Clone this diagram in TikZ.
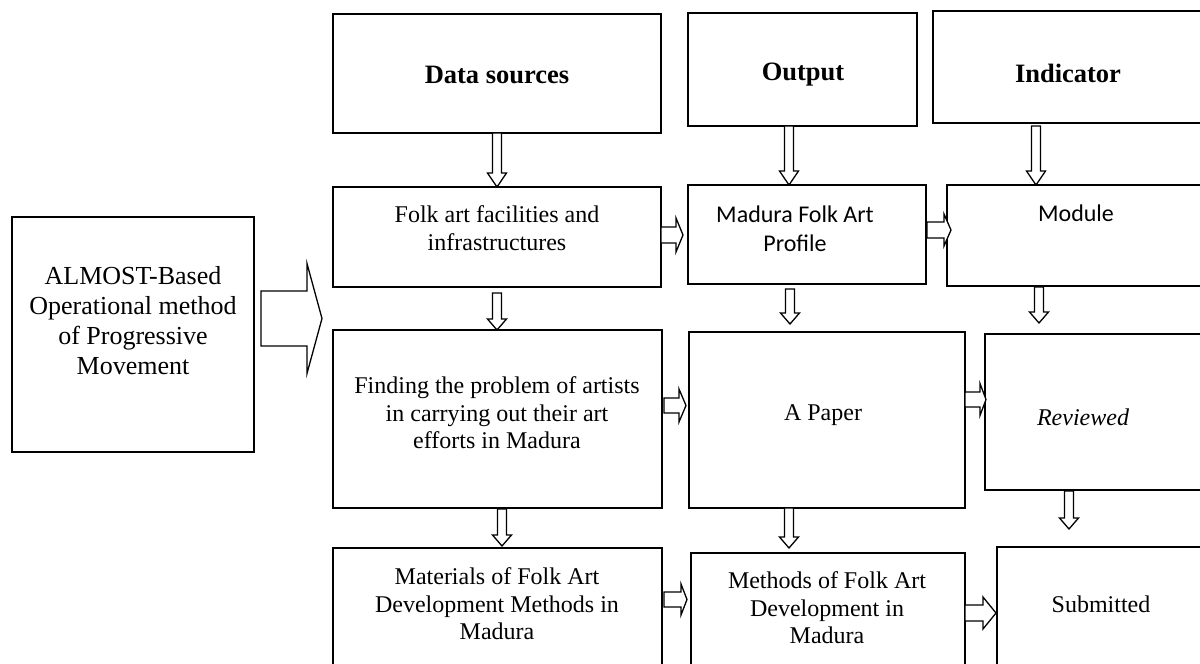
\documentclass[tikz,border=0pt]{standalone}
\usepackage{fontspec}
\setmainfont{Liberation Serif}
\newfontfamily\calibfont{Carlito}
\usetikzlibrary{calc}
\newcommand\mybox[5]{\node[box, anchor=north west, minimum width={(#4-#2)*1pt}, minimum height={(#5-#3)*1pt}] (#1) at (#2,#3) {};}
% vertical block arrow: from box, to box, x, start gap, tip gap, head length
\newcommand\myvarr[6]{\draw[blk] let \p1=(#1.south), \p2=(#2.north), \p3=(#3,0) in
  ({\x3-4.5pt},{\y1-#4pt}) -- ({\x3-4.5pt},{\y2+#5pt+#6pt}) -- ({\x3-9.5pt},{\y2+#5pt+#6pt}) -- ({\x3},{\y2+#5pt})
  -- ({\x3+9.5pt},{\y2+#5pt+#6pt}) -- ({\x3+4.5pt},{\y2+#5pt+#6pt}) -- ({\x3+4.5pt},{\y1-#4pt}) -- cycle;}
% horizontal block arrow: from, to, y, start gap, tip gap, shaft half, head half, head length
\newcommand\myharr[8]{\draw[blk] let \p1=(#1.east), \p2=(#2.west), \p3=(0,#3) in
  ({\x1+#4pt},{\y3+#6pt}) -- ({\x2-(#5pt)-#8pt},{\y3+#6pt}) -- ({\x2-(#5pt)-#8pt},{\y3+#7pt}) -- ({\x2-(#5pt)},{\y3})
  -- ({\x2-(#5pt)-#8pt},{\y3-#7pt}) -- ({\x2-(#5pt)-#8pt},{\y3-#6pt}) -- ({\x1+#4pt},{\y3-#6pt}) -- cycle;}
\begin{document}
\begin{tikzpicture}[x=1pt,y=-1pt,
  box/.style={draw, line width=1.5pt, inner sep=0pt, outer sep=0pt},
  blk/.style={draw, line width=1.3pt, fill=white, line join=miter},
  txt/.style={font=\fontsize{24}{27.5}\selectfont, align=center, inner sep=0pt},
  hdr/.style={font=\fontsize{26.5}{30}\selectfont\bfseries, align=center, inner sep=0pt},
  side/.style={font=\fontsize{26}{30}\selectfont, align=center, inner sep=0pt},
  sans/.style={font=\fontsize{24}{29}\selectfont\calibfont, align=center, inner sep=0pt}]
\useasboundingbox (0,0) rectangle (1200,664);
\fill[white] (0,0) rectangle (1200,664);
\begin{scope}
\clip (0,0) rectangle (1200,664);
% boxes
\mybox{alm}{12}{217}{254}{452}
\mybox{ds}{333}{14}{661}{133}
\mybox{out}{688}{13}{917}{126}
\mybox{ind}{933}{11}{1205}{123}
\mybox{fa}{333}{187}{661}{287}
\mybox{pfl}{688}{185}{926}{284}
\mybox{mod}{947}{185}{1205}{286}
\mybox{fin}{333}{330}{662}{508}
\mybox{ap}{689}{332}{965}{508}
\mybox{rev}{985}{334}{1205}{490}
\mybox{mat}{333}{548}{662}{690}
\mybox{meth}{691}{553}{965}{690}
\mybox{sub}{997}{547}{1205}{690}
% texts
\node[side] (talm) at (133,321) {ALMOST-Based\\Operational method\\of Progressive\\Movement};
\node[hdr] (tds) at (497,75) {Data sources};
\node[hdr] (tout) at (803,75) {Output};
\node[hdr] (tind) at (1068,73) {Indicator};
\node[txt] (tfa) at (497,228) {Folk art facilities and\\infrastructures};
\node[sans] (tpfl) at (795,229) {Madura Folk Art\\Profile};
\node[sans] (tmod) at (1076,213) {Module};
\node[txt] (tfin) at (497,413) {Finding the problem of artists\\in carrying out their art\\efforts in Madura};
\node[txt] (tap) at (823,415) {A Paper};
\node[txt] (trev) at (1083,417) {\itshape Reviewed};
\node[txt] (tmat) at (497,604) {Materials of Folk Art\\Development Methods in\\Madura};
\node[txt] (tmeth) at (827,608) {Methods of Folk Art\\Development in\\Madura};
\node[txt] (tsub) at (1101,604) {Submitted};
% vertical arrows
\myvarr{ds}{fa}{497}{0}{0}{14}
\myvarr{out}{pfl}{789}{0}{0}{14}
\myvarr{ind}{mod}{1036}{3}{0}{14}
\myvarr{fa}{fin}{497}{6}{0}{11}
\myvarr{pfl}{ap}{790}{5}{8}{11}
\myvarr{mod}{rev}{1039}{1}{11}{11}
\myvarr{fin}{mat}{502}{1}{2}{11}
\myvarr{ap}{meth}{789}{0}{5}{11}
\myvarr{rev}{sub}{1069}{1}{18}{11}
% horizontal arrows
\myharr{fa}{pfl}{235}{0}{5}{8}{17}{7}
\myharr{pfl}{mod}{230}{1}{-4}{8}{16}{7}
\myharr{fin}{ap}{405.5}{2}{3}{7.5}{16.5}{7}
\myharr{ap}{rev}{399.5}{0}{-1}{7.5}{16}{6}
\myharr{mat}{meth}{599.5}{2}{4}{7.5}{15.5}{6}
\myharr{meth}{sub}{613}{0}{1}{8}{16}{13}
\myharr{alm}{fin}{318.5}{7}{11}{27.5}{55}{15}
\end{scope}
\end{tikzpicture}
\end{document}
